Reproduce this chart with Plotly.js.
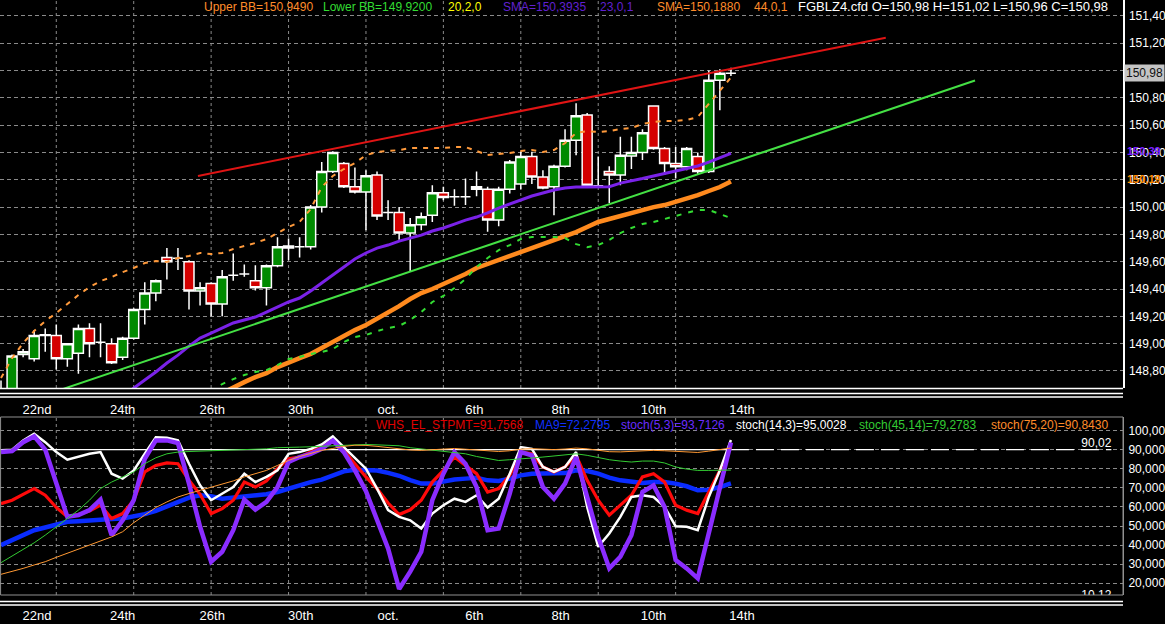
<!DOCTYPE html>
<html><head><meta charset="utf-8">
<script src="https://cdn.plot.ly/plotly-3.0.1.min.js"></script>
<style>html,body{margin:0;padding:0;background:#000;}#chart{width:1165px;height:624px;}</style>
</head><body><div id="chart"></div>
<script>
// ---------- DATA ----------
const idx = [0,1,2,3,4,5,6,7,8,9,10,11,12,13,14,15,16,17,18,19,20,21,22,23,24,25,26,27,28,29,30,31,32,33,34,35,36,37,38,39,40,41,42,43,44,45,46,47,48,49,50,51,52,53,54,55,56,57,58,59,60,61,62,63,64,65,66];

const openP = [148.62,148.66,148.92,148.89,149.06,149.06,148.89,148.93,149.11,149.01,
149.00,148.90,149.04,149.25,149.37,149.63,149.625,149.60,149.385,149.44,
149.29,149.50,149.51,149.46,149.41,149.57,149.715,149.71,149.71,150.00,
150.26,150.32,150.15,150.11,150.235,149.96,149.96,149.81,149.87,149.94,
150.105,150.075,150.075,150.15,150.13,149.905,150.13,150.17,150.37,150.22,
150.15,150.30,150.49,150.675,150.157,150.26,150.235,150.375,150.40,150.74,
150.43,150.32,150.295,150.37,150.26,150.93,150.98];
const highP = [148.73,148.92,148.96,149.10,149.11,149.14,149.00,149.14,149.15,149.15,
149.04,149.05,149.26,149.45,149.47,149.70,149.70,149.61,149.45,149.45,
149.54,149.66,149.58,149.575,149.58,149.78,149.77,149.78,150.015,150.33,
150.41,150.33,150.29,150.27,150.26,150.05,150.00,149.92,149.96,150.16,
150.15,150.13,150.21,150.26,150.15,150.15,150.345,150.405,150.405,150.27,
150.31,150.57,150.76,150.69,150.37,150.30,150.515,150.515,150.57,150.745,
150.44,150.44,150.44,150.40,151.00,151.01,151.02];
const lowP = [148.60,148.60,148.90,148.87,148.94,148.81,148.83,148.78,148.90,148.90,
148.85,148.88,149.03,149.14,149.31,149.47,149.54,149.25,149.28,149.20,
149.20,149.46,149.49,149.39,149.28,149.56,149.61,149.63,149.69,149.96,
150.25,150.14,150.10,149.83,149.905,149.905,149.76,149.53,149.83,149.89,
150.05,150.01,150.015,150.08,149.82,149.86,150.10,150.13,150.17,150.13,
149.94,150.29,150.38,150.15,150.14,150.03,150.16,150.28,150.345,150.42,
150.235,150.21,150.27,150.24,150.25,150.71,150.96];
const closeP = [148.66,148.91,148.94,149.06,149.065,148.89,149.00,149.11,149.00,149.01,
148.86,149.04,149.25,149.37,149.46,149.60,149.625,149.385,149.41,149.29,
149.49,149.50,149.51,149.41,149.57,149.71,149.70,149.71,150.00,150.26,
150.40,150.15,150.11,150.23,149.935,149.96,149.81,149.87,149.93,150.105,
150.07,150.075,150.075,150.13,149.905,150.13,150.33,150.37,150.22,150.14,
150.30,150.49,150.67,150.16,150.157,150.235,150.38,150.40,150.545,150.43,
150.32,150.295,150.43,150.26,150.93,150.98,150.98];

const upperBB = [148.748,148.894,149.004,149.092,149.165,149.224,149.290,149.356,149.414,149.458,
149.488,149.524,149.554,149.590,149.605,149.598,149.627,149.642,149.664,149.656,
149.664,149.693,149.715,149.737,149.766,149.810,149.854,149.891,149.986,150.147,
150.228,150.279,150.323,150.381,150.403,150.411,150.418,150.433,150.433,150.433,
150.433,150.440,150.440,150.411,150.381,150.389,150.396,150.411,150.418,150.403,
150.418,150.469,150.543,150.557,150.550,150.557,150.572,150.579,150.609,150.623,
150.631,150.631,150.638,150.660,150.755,150.858,150.949];
const lowerBB = [null,null,null,null,null,null,null,null,null,null,
null,null,null,null,null,null,null,null,null,148.645,
148.704,148.740,148.770,148.792,148.806,148.843,148.887,148.902,148.924,148.938,
148.960,149.012,149.048,149.063,149.092,149.114,149.129,149.173,149.231,149.305,
149.349,149.407,149.473,149.561,149.627,149.685,149.722,149.766,149.781,149.781,
149.781,149.773,149.729,149.707,149.722,149.759,149.810,149.847,149.876,149.891,
149.913,149.935,149.957,149.979,149.979,149.949,149.920];
const sma23 = [null,null,null,null,null,null,null,null,null,null,
null,148.601,148.674,148.733,148.792,148.858,148.916,148.982,149.041,149.077,
149.114,149.151,149.173,149.195,149.231,149.268,149.305,149.334,149.385,149.444,
149.502,149.561,149.620,149.664,149.700,149.722,149.751,149.773,149.795,149.825,
149.847,149.876,149.905,149.927,149.957,149.993,150.023,150.052,150.081,150.103,
150.125,150.140,150.147,150.147,150.147,150.150,150.176,150.191,150.209,150.228,
150.246,150.264,150.283,150.301,150.330,150.359,150.3935];
const sma44 = [null,null,null,null,null,null,null,null,null,null,
null,null,null,null,null,null,null,null,null,null,
148.638,148.674,148.718,148.755,148.784,148.828,148.865,148.894,148.924,148.968,
149.019,149.055,149.099,149.136,149.180,149.231,149.275,149.327,149.370,149.400,
149.436,149.473,149.510,149.554,149.583,149.612,149.649,149.678,149.707,149.729,
149.759,149.788,149.817,149.854,149.891,149.913,149.935,149.964,149.986,150.000,
150.015,150.037,150.059,150.088,150.118,150.147,150.188];

const trendRedX = [17.81, 80.0];
const trendRedY = [150.228, 151.241];
const trendGreenX = [5.33, 88.07];
const trendGreenY = [148.66, 150.927];

const whsStpmt = [61.7,63.5,66.6,69.6,66.1,59.7,54.8,56.0,57.9,60.9,
53.9,56.5,63.5,78.3,81.7,83.0,82.6,73.9,66.6,56.5,
59.1,63.5,73.0,70.4,73.6,80.0,85.2,86.1,88.7,91.3,
94.8,89.6,82.6,75.7,69.6,62.0,56.0,58.5,63.5,73.0,
79.1,86.1,81.7,77.4,67.8,69.6,76.5,88.7,87.8,80.9,
78.3,80.9,87.0,73.9,63.5,55.7,60.9,66.1,75.7,77.4,
73.0,60.9,58.3,56.5,67.8,79.1,91.76];
const ma9 = [40.0,42.6,45.2,47.8,49.2,51.0,52.2,52.5,52.7,53.0,
53.6,53.9,54.8,56.2,57.9,60.3,62.6,64.9,66.1,65.6,
64.3,64.9,65.6,66.1,66.6,67.8,69.6,71.3,73.0,74.3,
76.5,78.6,79.5,79.5,79.0,77.8,76.3,74.0,72.2,72.2,
73.4,74.3,74.8,75.3,73.9,73.6,74.8,76.5,77.4,77.4,
77.7,77.7,79.1,78.8,77.4,75.3,73.9,73.0,72.5,73.0,
73.0,72.2,70.8,68.7,69.0,70.4,72.28];
const stoch5 = [88.7,89.2,93.9,96.9,90.0,72.0,54.8,55.7,58.3,63.8,
45.2,53.0,63.5,85.2,94.8,94.8,93.4,72.2,49.6,31.3,
36.5,47.8,63.8,58.6,62.6,70.4,83.5,86.1,87.8,90.4,
94.8,88.7,79.1,68.2,53.0,38.2,17.0,26.1,36.5,63.5,
77.4,88.7,82.6,70.4,47.8,48.7,67.0,88.7,87.0,70.4,
64.3,72.2,86.1,65.2,44.3,27.8,33.9,45.2,67.8,71.3,
60.0,32.2,27.8,22.6,46.1,70.4,93.71];
const stoch14 = [89.6,89.9,94.8,98.3,93.9,88.7,84.7,86.1,87.8,88.7,
77.4,74.8,79.1,87.8,96.5,96.2,94.8,82.6,71.3,63.5,
67.0,70.4,77.4,73.0,75.7,79.1,87.8,88.7,90.4,92.7,
96.9,91.3,85.2,80.0,69.6,58.3,54.8,53.0,48.7,56.5,
60.9,64.3,62.6,66.1,59.7,64.3,77.4,91.3,90.4,80.9,
78.3,80.9,88.7,60.0,39.1,46.1,54.8,65.2,66.1,65.2,
60.0,49.9,49.6,47.8,65.2,79.1,95.00];
const stoch45 = [30.8,34.3,37.7,41.2,45.2,49.6,53.9,58.3,63.5,69.6,
73.0,75.7,78.3,82.6,85.7,87.8,88.7,89.0,89.2,89.4,
89.6,89.6,89.7,89.9,90.4,91.0,91.3,91.3,91.5,91.7,
91.8,92.2,92.5,92.7,92.5,92.3,92.0,91.0,90.4,89.9,
89.2,88.5,87.8,86.4,85.2,84.3,84.7,85.0,85.6,86.1,
86.6,87.1,87.8,87.0,85.7,84.7,84.0,83.5,84.0,84.0,
83.0,80.9,79.8,79.1,79.1,79.1,79.28];
const stoch75 = [24.7,26.1,27.8,29.6,31.3,33.6,35.7,37.7,40.0,42.1,
44.3,47.0,51.7,55.7,59.7,62.6,65.2,67.0,68.7,70.4,
71.8,73.6,75.7,77.4,79.1,81.7,84.3,86.4,88.2,89.6,
90.6,91.7,92.3,92.2,91.7,91.0,90.4,89.8,89.6,89.9,
90.3,90.6,90.2,89.8,89.2,89.0,89.4,90.2,90.5,90.2,
90.0,90.3,90.8,90.4,89.6,88.9,88.8,89.0,89.4,89.6,
89.4,89.0,88.6,88.5,89.2,90.0,90.84];

const levelHi = 90.02;
const levelLo = 10.12;
const levelSolidX = [-0.1, 66];
const levelDashX = [66, 100.4];
const levelLabelX = [100.4];

const dateLabels = ['22nd','24th','26th','30th','oct.','6th','8th','10th','14th'];
const dateLabelPos = [3.25, 11.0, 19.1, 27.1, 35.0, 42.8, 50.6, 59.0, 67.0];
const gridIdx = [5, 12, 19, 26, 33, 40, 47, 54, 61];

const priceTicks = [148.8,149.0,149.2,149.4,149.6,149.8,150.0,150.2,150.4,150.6,150.8,151.0,151.2,151.4];
const priceTickText = ['148,80','149,00','149,20','149,40','149,60','149,80','150,00','150,20','150,40','150,60','150,80','','151,20','151,40'];
const oscTicks = [20,30,40,50,60,70,80,90,100];
const oscTickText = ['20,000','30,000','40,000','50,000','60,000','70,000','80,000','90,000','100,00'];

// ---------- PLOT ----------
const W = 1165, H = 624;
const px = v => v / W;
const py = v => 1 - v / H;
const FONT = 'Liberation Sans, Arial, sans-serif';
const gridC = '#8a8a8a';

const traces = [
  {type:'candlestick', x: idx, open: openP, high: highP, low: lowP, close: closeP,
   xaxis:'x', yaxis:'y', hoverinfo:'skip', whiskerwidth:0,
   increasing:{line:{color:'#ffffff', width:1.5}, fillcolor:'#008a00'},
   decreasing:{line:{color:'#ffffff', width:1.5}, fillcolor:'#d40000'}},
  {type:'scatter', mode:'lines', x: idx, y: sma44, xaxis:'x', yaxis:'y',
   line:{color:'#ff8a1e', width:4.5}, hoverinfo:'skip'},
  {type:'scatter', mode:'lines', x: idx, y: sma23, xaxis:'x', yaxis:'y',
   line:{color:'#7a22e8', width:3}, hoverinfo:'skip'},
  {type:'scatter', mode:'lines', x: idx, y: upperBB, xaxis:'x', yaxis:'y',
   line:{color:'#ff9a3c', width:2, dash:'5px,6px'}, hoverinfo:'skip'},
  {type:'scatter', mode:'lines', x: idx, y: lowerBB, xaxis:'x', yaxis:'y',
   line:{color:'#33dd33', width:2, dash:'5px,7px'}, hoverinfo:'skip'},
  {type:'scatter', mode:'lines', x: trendGreenX, y: trendGreenY, xaxis:'x', yaxis:'y',
   line:{color:'#44e044', width:2}, hoverinfo:'skip'},
  {type:'scatter', mode:'lines', x: trendRedX, y: trendRedY, xaxis:'x', yaxis:'y',
   line:{color:'#e01414', width:2}, hoverinfo:'skip'},

  // oscillator panel
  {type:'scatter', mode:'lines', x: levelSolidX, y: [levelHi, levelHi], xaxis:'x2', yaxis:'y2',
   line:{color:'#ffffff', width:1.2}, hoverinfo:'skip'},
  {type:'scatter', mode:'lines', x: levelDashX, y: [levelHi, levelHi], xaxis:'x2', yaxis:'y2',
   line:{color:'#ffffff', width:1.2, dash:'18px,7px'}, hoverinfo:'skip'},
  {type:'scatter', mode:'lines', x: idx, y: ma9, xaxis:'x2', yaxis:'y2',
   line:{color:'#0a2cff', width:4.5}, hoverinfo:'skip'},
  {type:'scatter', mode:'lines', x: idx, y: whsStpmt, xaxis:'x2', yaxis:'y2',
   line:{color:'#ff0a0a', width:3.2}, hoverinfo:'skip'},
  {type:'scatter', mode:'lines', x: idx, y: stoch14, xaxis:'x2', yaxis:'y2',
   line:{color:'#ffffff', width:2.5}, hoverinfo:'skip'},
  {type:'scatter', mode:'lines', x: idx, y: stoch5, xaxis:'x2', yaxis:'y2',
   line:{color:'#8a2cff', width:4.5}, hoverinfo:'skip'},
  {type:'scatter', mode:'lines', x: idx, y: stoch45, xaxis:'x2', yaxis:'y2',
   line:{color:'#33cc33', width:1}, hoverinfo:'skip'},
  {type:'scatter', mode:'lines', x: idx, y: stoch75, xaxis:'x2', yaxis:'y2',
   line:{color:'#ff9933', width:1}, hoverinfo:'skip'},
  {type:'scatter', mode:'text', x: levelLabelX, y: [levelHi], text:['90,02'], textposition:'top left',
   cliponaxis:true, xaxis:'x2', yaxis:'y2', textfont:{color:'#ffffff', size:12, family:FONT}, hoverinfo:'skip'},
  {type:'scatter', mode:'text', x: levelLabelX, y: [levelLo], text:['10,12'], textposition:'top left',
   cliponaxis:true, xaxis:'x2', yaxis:'y2', textfont:{color:'#ffffff', size:12, family:FONT}, hoverinfo:'skip'}
];

const xr = [-0.09, 101.45];
const shapes = [];
gridIdx.forEach(g => {
  shapes.push({type:'line', xref:'x', yref:'y domain', x0:g, x1:g, y0:0, y1:1, layer:'below',
               line:{color:gridC, width:1, dash:'3px,3px'}});
  shapes.push({type:'line', xref:'x2', yref:'y2 domain', x0:g, x1:g, y0:0, y1:1, layer:'below',
               line:{color:gridC, width:1, dash:'3px,3px'}});
});
const xEnd = px(1123);
[[388.5,'#ffffff'],[393.5,'#ffffff'],[397,'#ffffff'],[601.5,'#ffffff'],[605,'#ffffff']].forEach(([yy,c]) => {
  shapes.push({type:'line', xref:'paper', yref:'paper', x0:0, x1:xEnd, y0:py(yy), y1:py(yy), layer:'above',
               line:{color:c, width:1.5}});
});
shapes.push({type:'rect', xref:'paper', yref:'paper', x0:0.0005, x1:xEnd, y0:py(595), y1:py(417), layer:'above',
             line:{color:'#909090', width:1}});

function lab(text, xpx, ypx, color, anchor, size) {
  return {text, xref:'paper', yref:'paper', x:px(xpx), y:py(ypx), xanchor:anchor||'left', yanchor:'middle',
          showarrow:false, font:{family:FONT, size:size||12, color}};
}
const annotations = [
  lab('Upper BB=150,9490', 202, 7, '#ff8c2a'),
  lab('Lower BB=149,9200', 321, 7, '#33dd33'),
  lab('20,2,0', 446, 7, '#ffff00'),
  lab('SMA=150,3935', 501, 7, '#6020d0'),
  lab('23,0,1', 598, 7, '#6020d0'),
  lab('SMA=150,1880', 655, 7, '#ff8c2a'),
  lab('44,0,1', 752, 7, '#ff8c2a'),
  lab('FGBLZ4.cfd O=150,98 H=151,02 L=150,96 C=150,98', 1110, 7, '#ffffff', 'right', 13),
  lab('WHS_EL_STPMT=91,7568', 374, 425, '#e00000'),
  lab('MA9=72,2795', 533, 425, '#1030ff'),
  lab('stoch(5,3)=93,7126', 619, 425, '#6a2cff'),
  lab('stoch(14,3)=95,0028', 734, 425, '#ffffff'),
  lab('stoch(45,14)=79,2783', 857, 425, '#33cc33'),
  lab('stoch(75,20)=90,8430', 1110, 425, '#ff8c2a', 'right'),
  {text:'150,98', xref:'paper', yref:'y', x:px(1124), y:150.98, xanchor:'left', yanchor:'middle', showarrow:false,
   bgcolor:'#c4c4c4', borderpad:1, font:{family:FONT, size:12, color:'#101010'}},
  {text:'<b>150,39</b>', xref:'paper', yref:'y', x:px(1125), y:150.3935, yshift:2, xanchor:'left', yanchor:'middle', showarrow:false,
   font:{family:FONT, size:11, color:'#7a1fff'}},
  {text:'<b>150,19</b>', xref:'paper', yref:'y', x:px(1125), y:150.188, yshift:2, xanchor:'left', yanchor:'middle', showarrow:false,
   font:{family:FONT, size:11, color:'#ff8c00'}}
];

const layout = {
  width: W, height: H,
  margin:{l:0, r:0, t:0, b:0, pad:0},
  paper_bgcolor:'#000000', plot_bgcolor:'#000000',
  showlegend:false, hovermode:false, boxgap:0.1, boxgroupgap:0,
  font:{family:FONT, color:'#ffffff'},
  xaxis:{domain:[0, xEnd], range:xr, anchor:'y', type:'linear',
         rangeslider:{visible:false}, showgrid:false, zeroline:false, showline:false,
         tickmode:'array', tickvals:dateLabelPos, ticktext:dateLabels,
         ticks:'outside', ticklen:9, tickcolor:'rgba(0,0,0,0)',
         tickfont:{family:FONT, size:13, color:'#ffffff'}, fixedrange:true},
  yaxis:{domain:[py(388), 1], range:[148.675, 151.517], anchor:'x', side:'right',
         tickmode:'array', tickvals:priceTicks, ticktext:priceTickText,
         showgrid:true, gridcolor:gridC, griddash:'4px,3px', gridwidth:1,
         zeroline:false, showline:true, linecolor:'#ffffff', linewidth:1.5,
         ticks:'outside', ticklen:2, tickcolor:'rgba(0,0,0,0)',
         tickfont:{family:FONT, size:12, color:'#ffffff'}, fixedrange:true},
  xaxis2:{domain:[0, xEnd], range:xr, anchor:'y2', matches:'x', type:'linear',
         showgrid:false, zeroline:false, showline:false,
         tickmode:'array', tickvals:dateLabelPos, ticktext:dateLabels,
         ticks:'outside', ticklen:8, tickcolor:'rgba(0,0,0,0)',
         tickfont:{family:FONT, size:13, color:'#ffffff'}, fixedrange:true},
  yaxis2:{domain:[py(595), py(417)], range:[13.87, 107.07], anchor:'x2', side:'right',
         tickmode:'array', tickvals:oscTicks, ticktext:oscTickText,
         showgrid:true, gridcolor:gridC, griddash:'4px,3px', gridwidth:1,
         zeroline:false, showline:true, linecolor:'#909090', linewidth:1,
         ticks:'outside', ticklen:2, tickcolor:'rgba(0,0,0,0)',
         tickfont:{family:FONT, size:12, color:'#ffffff'}, fixedrange:true},
  shapes, annotations
};

Plotly.newPlot('chart', traces, layout, {staticPlot:true, displayModeBar:false});
</script></body></html>
